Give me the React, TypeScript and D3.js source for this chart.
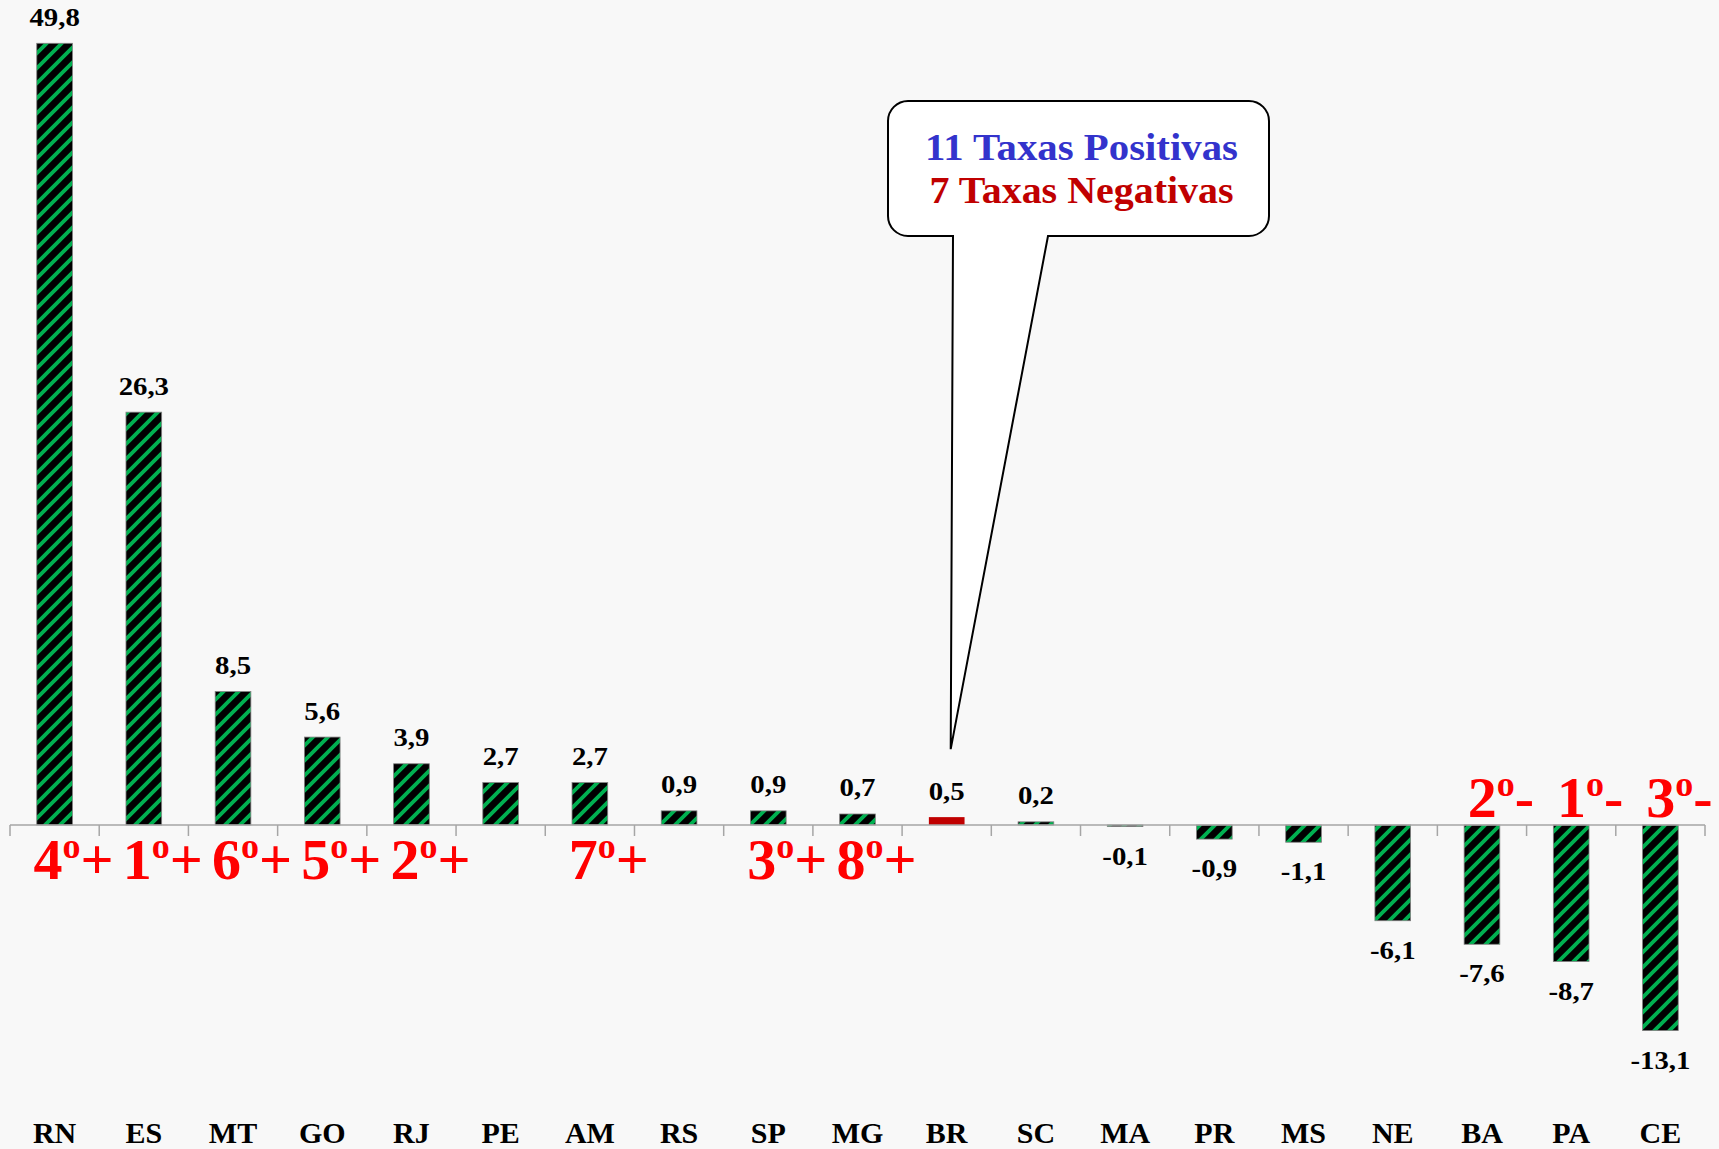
import React from "react";
import * as d3 from "d3";

const categories = ["RN", "ES", "MT", "GO", "RJ", "PE", "AM", "RS", "SP", "MG", "BR", "SC", "MA", "PR", "MS", "NE", "BA", "PA", "CE"];
const values = [49.8, 26.3, 8.5, 5.6, 3.9, 2.7, 2.7, 0.9, 0.9, 0.7, 0.5, 0.2, -0.1, -0.9, -1.1, -6.1, -7.6, -8.7, -13.1];
const highlightCategory = "BR";
const rankCategories = ["RN", "ES", "MT", "GO", "RJ", "AM", "SP", "MG", "BA", "PA", "CE"];
const rankNumbers = ["4", "1", "6", "5", "2", "7", "3", "8", "2", "1", "3"];
const rankSigns = ["+", "+", "+", "+", "+", "+", "+", "+", "-", "-", "-"];
const calloutLines = ["11 Taxas Positivas", "7 Taxas Negativas"];

const W = 1719;
const H = 1149;
const FONT = "'Liberation Serif', 'Times New Roman', serif";

export default function App() {
  const x = d3.scaleBand<string>().domain(categories).range([10, 1705]).padding(0);
  const y = d3.scaleLinear().domain([-13.1, 49.8]).range([1030.6, 43.3]);
  const bw = x.bandwidth();
  const barW = bw * 0.4;
  const y0 = y(0);
  const fmt = (v: number) => d3.format(".1f")(v).replace(".", ",").replace("−", "-");

  const boundaries = categories.map((c) => x(c) as number).concat([x.range()[1]]);

  const brCx = (x(highlightCategory) as number) + bw / 2;
  const brIdx = categories.indexOf(highlightCategory);
  const tipX = brCx + 4;
  const tipY = y(values[brIdx]) - 68;

  const bx0 = 888, bx1 = 1269, by0 = 101, by1 = 236, r = 20;
  const tailL = 953, tailR = 1048;
  const bubble = [
    `M${bx0 + r},${by0}`,
    `H${bx1 - r}`,
    `A${r},${r} 0 0 1 ${bx1},${by0 + r}`,
    `V${by1 - r}`,
    `A${r},${r} 0 0 1 ${bx1 - r},${by1}`,
    `H${tailR}`,
    `L${tipX},${tipY}`,
    `L${tailL},${by1}`,
    `H${bx0 + r}`,
    `A${r},${r} 0 0 1 ${bx0},${by1 - r}`,
    `V${by0 + r}`,
    `A${r},${r} 0 0 1 ${bx0 + r},${by0}`,
    "Z",
  ].join(" ");

  return (
    <svg
      width={W}
      height={H}
      style={{ position: "absolute", left: 0, top: 0, display: "block" }}
      xmlns="http://www.w3.org/2000/svg"
    >
      <defs>
        <pattern id="stripes" patternUnits="userSpaceOnUse" width={15} height={15}>
          <rect width={15} height={15} fill="#000000" />
          <path
            d="M-4,4 L4,-4 M0,15 L15,0 M11,19 L19,11"
            stroke="#00B050"
            strokeWidth={3.8}
          />
        </pattern>
      </defs>
      <rect width={W} height={H} fill="#F8F8F8" />

      {/* bars */}
      {categories.map((c, i) => {
        const v = values[i];
        const cx = (x(c) as number) + bw / 2;
        const top = Math.min(y(v), y0);
        const h = Math.abs(y(v) - y0);
        const isHi = c === highlightCategory;
        return (
          <rect
            key={c}
            x={cx - barW / 2}
            y={top}
            width={barW}
            height={Math.max(h, 1)}
            fill={isHi ? "#C00000" : "url(#stripes)"}
            stroke={isHi ? "none" : "#808080"}
            strokeWidth={0.8}
          />
        );
      })}

      {/* axis */}
      <line x1={x.range()[0]} x2={x.range()[1]} y1={y0} y2={y0} stroke="#A6A6A6" strokeWidth={1.5} />
      {boundaries.map((b, i) => (
        <line key={i} x1={b} x2={b} y1={y0} y2={y0 + 11} stroke="#A6A6A6" strokeWidth={1.5} />
      ))}

      {/* value labels */}
      {categories.map((c, i) => {
        const v = values[i];
        const cx = (x(c) as number) + bw / 2;
        const ly = v >= 0 ? y(v) - 17.5 : y(v) + 38;
        return (
          <text
            key={c}
            transform={`translate(${cx},${ly}) scale(1.13,1)`}
            textAnchor="middle"
            fontFamily={FONT}
            fontWeight="bold"
            fontSize={25.5}
            fill="#000"
          >
            {fmt(v)}
          </text>
        );
      })}

      {/* category labels */}
      {categories.map((c) => (
        <text
          key={c}
          x={(x(c) as number) + bw / 2}
          y={1143}
          textAnchor="middle"
          fontFamily={FONT}
          fontWeight="bold"
          fontSize={30}
          fill="#000"
        >
          {c}
        </text>
      ))}

      {/* rank labels */}
      {rankCategories.map((c, i) => {
        const cx = (x(c) as number) + bw / 2 + 19;
        const pos = rankSigns[i] === "+";
        const ly = pos ? 879 : 817;
        return (
          <text
            key={c}
            x={cx}
            y={ly}
            textAnchor="middle"
            fontFamily={FONT}
            fontWeight="bold"
            fontSize={58}
            fill="#FF0000"
          >
            {rankNumbers[i]}
            <tspan fontSize={36} dy={-21}>o</tspan>
            <tspan dy={21}>{rankSigns[i]}</tspan>
          </text>
        );
      })}

      {/* callout */}
      <path d={bubble} fill="#FFFFFF" stroke="#000000" strokeWidth={2} strokeLinejoin="miter" />
      <text
        x={(bx0 + bx1) / 2 + 3}
        y={160}
        textAnchor="middle"
        fontFamily={FONT}
        fontWeight="bold"
        fontSize={37}
        fill="#3333CC"
        textLength={313}
        lengthAdjust="spacingAndGlyphs"
      >
        {calloutLines[0]}
      </text>
      <text
        x={(bx0 + bx1) / 2 + 3}
        y={203}
        textAnchor="middle"
        fontFamily={FONT}
        fontWeight="bold"
        fontSize={37}
        fill="#C00000"
        textLength={304}
        lengthAdjust="spacingAndGlyphs"
      >
        {calloutLines[1]}
      </text>
    </svg>
  );
}
